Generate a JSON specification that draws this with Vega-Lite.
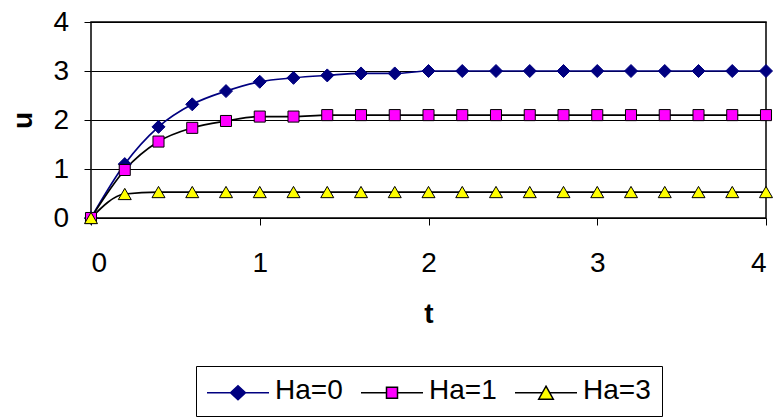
{
  "$schema": "https://vega.github.io/schema/vega-lite/v6.json",
  "width": 675,
  "height": 196,
  "autosize": {"type": "none"},
  "padding": {"left": 91, "top": 22, "right": 11, "bottom": 201},
  "background": "white",
  "config": {
    "view": {"stroke": "#000", "strokeWidth": 1.5},
    "font": "Liberation Sans",
    "axis": {
      "labelFont": "Liberation Sans", "labelFontSize": 28, "labelColor": "#000",
      "titleFont": "Liberation Sans", "titleFontSize": 28, "titleFontWeight": "bold", "titleColor": "#000",
      "tickColor": "#000", "tickSize": 7, "tickWidth": 1, "domain": false
    },
    "legend": {
      "orient": "none", "legendX": 105, "legendY": 344,
      "direction": "horizontal", "columns": 3,
      "padding": 11, "strokeColor": "#000", "fillColor": "#fff",
      "labelFont": "Liberation Sans", "labelFontSize": 28, "labelColor": "#000",
      "symbolSize": 400, "symbolOffset": 17, "labelOffset": 23, "columnPadding": 15,
      "symbolStrokeWidth": 1.5, "symbolOpacity": 1
    }
  },
  "data": {"values": [
    {"series": "Ha=0", "t": 0, "u": 0},
    {"series": "Ha=0", "t": 0.2, "u": 1.1},
    {"series": "Ha=0", "t": 0.4, "u": 1.86},
    {"series": "Ha=0", "t": 0.6, "u": 2.32},
    {"series": "Ha=0", "t": 0.8, "u": 2.59},
    {"series": "Ha=0", "t": 1.0, "u": 2.78},
    {"series": "Ha=0", "t": 1.2, "u": 2.86},
    {"series": "Ha=0", "t": 1.4, "u": 2.91},
    {"series": "Ha=0", "t": 1.6, "u": 2.95},
    {"series": "Ha=0", "t": 1.8, "u": 2.95},
    {"series": "Ha=0", "t": 2.0, "u": 3.0},
    {"series": "Ha=0", "t": 2.2, "u": 3.0},
    {"series": "Ha=0", "t": 2.4, "u": 3.0},
    {"series": "Ha=0", "t": 2.6, "u": 3.0},
    {"series": "Ha=0", "t": 2.8, "u": 3.0},
    {"series": "Ha=0", "t": 3.0, "u": 3.0},
    {"series": "Ha=0", "t": 3.2, "u": 3.0},
    {"series": "Ha=0", "t": 3.4, "u": 3.0},
    {"series": "Ha=0", "t": 3.6, "u": 3.0},
    {"series": "Ha=0", "t": 3.8, "u": 3.0},
    {"series": "Ha=0", "t": 4.0, "u": 3.0},
    {"series": "Ha=1", "t": 0, "u": 0},
    {"series": "Ha=1", "t": 0.2, "u": 0.98},
    {"series": "Ha=1", "t": 0.4, "u": 1.56},
    {"series": "Ha=1", "t": 0.6, "u": 1.84},
    {"series": "Ha=1", "t": 0.8, "u": 1.98},
    {"series": "Ha=1", "t": 1.0, "u": 2.07},
    {"series": "Ha=1", "t": 1.2, "u": 2.07},
    {"series": "Ha=1", "t": 1.4, "u": 2.1},
    {"series": "Ha=1", "t": 1.6, "u": 2.1},
    {"series": "Ha=1", "t": 1.8, "u": 2.1},
    {"series": "Ha=1", "t": 2.0, "u": 2.1},
    {"series": "Ha=1", "t": 2.2, "u": 2.1},
    {"series": "Ha=1", "t": 2.4, "u": 2.1},
    {"series": "Ha=1", "t": 2.6, "u": 2.1},
    {"series": "Ha=1", "t": 2.8, "u": 2.1},
    {"series": "Ha=1", "t": 3.0, "u": 2.1},
    {"series": "Ha=1", "t": 3.2, "u": 2.1},
    {"series": "Ha=1", "t": 3.4, "u": 2.1},
    {"series": "Ha=1", "t": 3.6, "u": 2.1},
    {"series": "Ha=1", "t": 3.8, "u": 2.1},
    {"series": "Ha=1", "t": 4.0, "u": 2.1},
    {"series": "Ha=3", "t": 0, "u": 0},
    {"series": "Ha=3", "t": 0.2, "u": 0.49},
    {"series": "Ha=3", "t": 0.4, "u": 0.53},
    {"series": "Ha=3", "t": 0.6, "u": 0.53},
    {"series": "Ha=3", "t": 0.8, "u": 0.53},
    {"series": "Ha=3", "t": 1.0, "u": 0.53},
    {"series": "Ha=3", "t": 1.2, "u": 0.53},
    {"series": "Ha=3", "t": 1.4, "u": 0.53},
    {"series": "Ha=3", "t": 1.6, "u": 0.53},
    {"series": "Ha=3", "t": 1.8, "u": 0.53},
    {"series": "Ha=3", "t": 2.0, "u": 0.53},
    {"series": "Ha=3", "t": 2.2, "u": 0.53},
    {"series": "Ha=3", "t": 2.4, "u": 0.53},
    {"series": "Ha=3", "t": 2.6, "u": 0.53},
    {"series": "Ha=3", "t": 2.8, "u": 0.53},
    {"series": "Ha=3", "t": 3.0, "u": 0.53},
    {"series": "Ha=3", "t": 3.2, "u": 0.53},
    {"series": "Ha=3", "t": 3.4, "u": 0.53},
    {"series": "Ha=3", "t": 3.6, "u": 0.53},
    {"series": "Ha=3", "t": 3.8, "u": 0.53},
    {"series": "Ha=3", "t": 4.0, "u": 0.53}
  ]},
  "layer": [
    {
      "mark": {"type": "line", "interpolate": "monotone", "strokeWidth": 1.7},
      "encoding": {
        "x": {"field": "t", "type": "quantitative", "scale": {"domain": [0, 4], "nice": false},
          "axis": {"values": [0, 1, 2, 3, 4], "format": "d", "grid": false, "labelPadding": 24, "title": "t",
            "titleBaseline": "alphabetic", "titleY": 104, "titleX": 337.5, "titleAlign": "center"}},
        "y": {"field": "u", "type": "quantitative", "scale": {"domain": [0, 4], "nice": false},
          "axis": {"values": [0, 1, 2, 3, 4], "format": "d", "grid": true, "gridColor": "#000", "gridWidth": 1, "labelPadding": 15.5,
            "title": "u", "titleBaseline": "alphabetic", "titleX": -60, "titleY": 98, "titleAngle": -90, "titleAlign": "center"}},
        "detail": {"field": "series", "type": "nominal"},
        "stroke": {"condition": {"test": "datum.series === 'Ha=0'", "value": "#000080"}, "value": "#000000"}
      }
    },
    {
      "mark": {"type": "point", "filled": true, "opacity": 1, "strokeWidth": 1, "size": 169},
      "encoding": {
        "x": {"field": "t", "type": "quantitative"},
        "y": {"field": "u", "type": "quantitative"},
        "shape": {"condition": [
          {"test": "datum.series === 'Ha=0'", "value": "diamond"},
          {"test": "datum.series === 'Ha=1'", "value": "M-0.85,-0.85H0.85V0.85H-0.85Z"}
        ], "value": "triangle-up"},
        "fill": {"condition": [
          {"test": "datum.series === 'Ha=0'", "value": "#000080"},
          {"test": "datum.series === 'Ha=1'", "value": "#FF00FF"}
        ], "value": "#FFFF00"},
        "stroke": {"condition": {"test": "datum.series === 'Ha=0'", "value": "#000080"}, "value": "#000000"}
      }
    },
    {
      "mark": {"type": "point", "filled": true, "opacity": 0, "size": 169},
      "encoding": {
        "x": {"field": "t", "type": "quantitative"},
        "y": {"field": "u", "type": "quantitative"},
        "shape": {"field": "series", "type": "nominal",
          "scale": {"domain": ["Ha=0", "Ha=1", "Ha=3"], "range": [
            "M-3.1,0.17H3.1M0,-0.53L0.75,0.17L0,0.87L-0.75,0.17Z",
            "M-3.1,0.17H-0.55M0.55,0.17H3.1M-0.55,-0.38H0.55V0.72H-0.55Z",
            "M-3.1,0.17H-0.365M0.365,0.17H3.1M0,-0.48L0.73,0.82H-0.73Z"]},
          "legend": {"title": null}},
        "fill": {"field": "series", "type": "nominal",
          "scale": {"domain": ["Ha=0", "Ha=1", "Ha=3"], "range": ["#000080", "#FF00FF", "#FFFF00"]},
          "legend": {"title": null}},
        "stroke": {"field": "series", "type": "nominal",
          "scale": {"domain": ["Ha=0", "Ha=1", "Ha=3"], "range": ["#000080", "#000000", "#000000"]},
          "legend": {"title": null}}
      }
    }
  ]
}
